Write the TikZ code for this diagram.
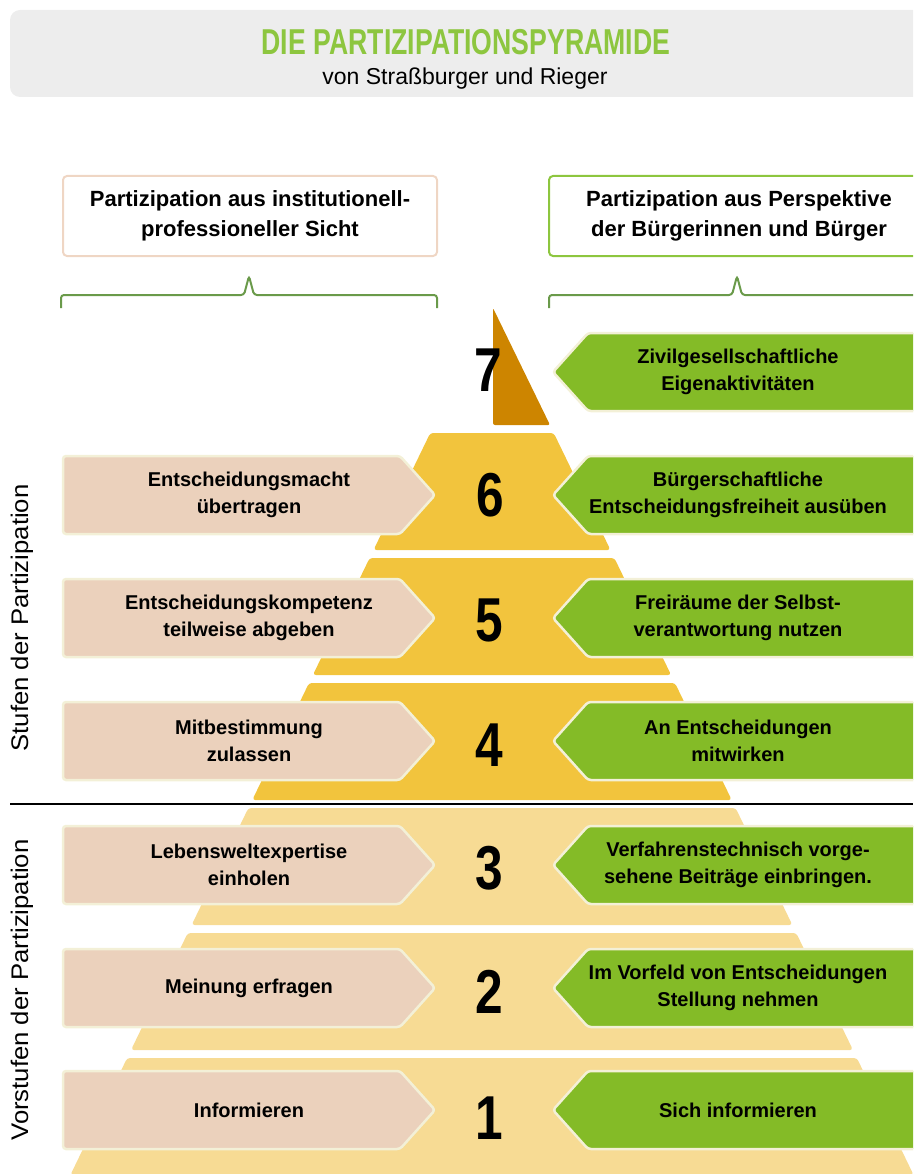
\documentclass[tikz,border=0pt]{standalone}
\usepackage{fontspec}
\setmainfont{Liberation Sans}
\newfontfamily\schmal[FakeStretch=0.8]{Liberation Sans}
\newfontfamily\titelschrift[FakeStretch=0.74]{Liberation Sans}
\newfontfamily\breit[FakeStretch=1.07]{Liberation Sans}
\usetikzlibrary{calc}

\definecolor{grau}{HTML}{EDEDED}
\definecolor{titelgruen}{HTML}{8DC63F}
\definecolor{gruen}{HTML}{84BB27}
\definecolor{rahmengruen}{HTML}{8DC63F}
\definecolor{klammergruen}{HTML}{6A9A4A}
\definecolor{haut}{HTML}{EBD1BC}
\definecolor{hautrand}{HTML}{EFD6C4}
\definecolor{creme}{HTML}{F3F0D7}
\definecolor{dunkel}{HTML}{CD8500}
\definecolor{gelb}{HTML}{F2C43D}
\definecolor{hellgelb}{HTML}{F7DB94}

\tikzset{
 linkspfeil/.style={fill=haut, draw=creme, line width=2.5pt, rounded corners=3pt},
 rechtspfeil/.style={fill=gruen, draw=creme, line width=2.5pt, rounded corners=3pt},
 pfeiltext/.style={align=center, inner sep=0pt, font=\bfseries\fontsize{20}{27}\selectfont},
 kopftext/.style={align=center, inner sep=0pt, font=\bfseries\fontsize{22}{30}\selectfont},
 zahl/.style={inner sep=0pt, font=\schmal\bfseries\fontsize{62}{62}\selectfont},
 klammer/.style={draw=klammergruen, line width=2pt, rounded corners=3pt},
 seitentext/.style={rotate=90, inner sep=0pt, font=\breit\fontsize{24}{24}\selectfont},
}

\newcommand{\stufe}[2]{% obere kante, farbe
 \pgfmathsetmacro{\Lo}{640.265-0.485*#1}
 \pgfmathsetmacro{\Ro}{343.735+0.485*#1}
 \pgfmathsetmacro{\Lu}{640.265-0.485*(#1+117)}
 \pgfmathsetmacro{\Ru}{343.735+0.485*(#1+117)}
\fill[#2, rounded corners=3pt] (\Lo,#1)--(\Ro,#1)--(\Ru,#1+117)--(\Lu,#1+117)--cycle;
}
\newcommand{\links}[3]{% mitte, name, text
\draw[linkspfeil] (63,#1-39)--(400,#1-39)--(435,#1)--(400,#1+39)--(63,#1+39)--cycle;
\node[pfeiltext] (#2) at (249,#1) {#3};
}
\newcommand{\rechts}[3]{% mitte, name, text
\draw[rechtspfeil] (930,#1-39)--(588,#1-39)--(553,#1)--(588,#1+39)--(930,#1+39)--cycle;
\node[pfeiltext] (#2) at (738,#1) {#3};
}

\begin{document}
\begin{tikzpicture}[x=1pt,y=-1pt]
			\useasboundingbox (0,0) rectangle (913,1174);
			\clip (0,0) rectangle (913,1174);

			% kopf
			\fill[grau, rounded corners=10pt] (10,10) rectangle (950,97);
			\node[font=\titelschrift\bfseries\fontsize{36}{36}\selectfont, text=titelgruen, inner sep=0pt] (titel) at (466,42) {DIE PARTIZIPATIONSPYRAMIDE};
			\node[font=\fontsize{23}{23}\selectfont, anchor=base, inner sep=0pt] (untertitel) at (465,85) {von Straßburger und Rieger};

			% perspektiven
			\draw[hautrand, line width=2pt, rounded corners=4pt] (63,176) rectangle (437,256);
			\node[kopftext] (institution) at (250,216) {Partizipation aus institutionell-\\professioneller Sicht};
			\draw[rahmengruen, line width=2pt, rounded corners=4pt] (549,176) rectangle (950,256);
			\node[kopftext] (buerger) at (739,216) {Partizipation aus Perspektive\\der Bürgerinnen und Bürger};

			\draw[klammer] (61,308)--(61,295)--(244,295)--(249,276)--(254,295)--(437,295)--(437,308);
			\draw[klammer] (549,308)--(549,295)--(732,295)--(737,276)--(742,295)--(950,295);

			% pyramide
			\fill[dunkel, rounded corners=2pt] (493,308)--(550,425)--(493,425)--cycle;
			\stufe{433}{gelb}
			\stufe{558}{gelb}
			\stufe{683}{gelb}
			\stufe{808}{hellgelb}
			\stufe{933}{hellgelb}
			\stufe{1058}{hellgelb}

			\draw[line width=2pt] (10,804)--(913,804);

			% stufen
			\rechts{372}{r7}{Zivilgesellschaftliche\\Eigenaktivitäten}
			\links{495}{l6}{Entscheidungsmacht\\übertragen}
			\rechts{495}{r6}{Bürgerschaftliche\\Entscheidungsfreiheit ausüben}
			\links{618}{l5}{Entscheidungskompetenz\\teilweise abgeben}
			\rechts{618}{r5}{Freiräume der Selbst-\\verantwortung nutzen}
			\links{741}{l4}{Mitbestimmung\\zulassen}
			\rechts{741}{r4}{An Entscheidungen\\mitwirken}
			\links{865}{l3}{Lebensweltexpertise\\einholen}
			\rechts{865}{r3}{Verfahrenstechnisch vorge-\\sehene Beiträge einbringen.}
			\links{988}{l2}{Meinung erfragen}
			\rechts{988}{r2}{Im Vorfeld von Entscheidungen\\Stellung nehmen}
			\links{1110}{l1}{Informieren}
			\rechts{1110}{r1}{Sich informieren}

			\node[zahl] (n7) at (488,370){7};
			\node[zahl] (n6) at (490,495){6};
			\node[zahl] (n5) at (489,620){5};
			\node[zahl] (n4) at (489,745){4};
			\node[zahl] (n3) at (489,868){3};
			\node[zahl] (n2) at (489,992){2};
			\node[zahl] (n1) at (489,1118){1};

			\node[seitentext] (stufen) at (22,618){Stufen der Partizipation};
			\node[seitentext] (vorstufen) at (22,990){Vorstufen der Partizipation};
			\end{tikzpicture}
\end{document}
